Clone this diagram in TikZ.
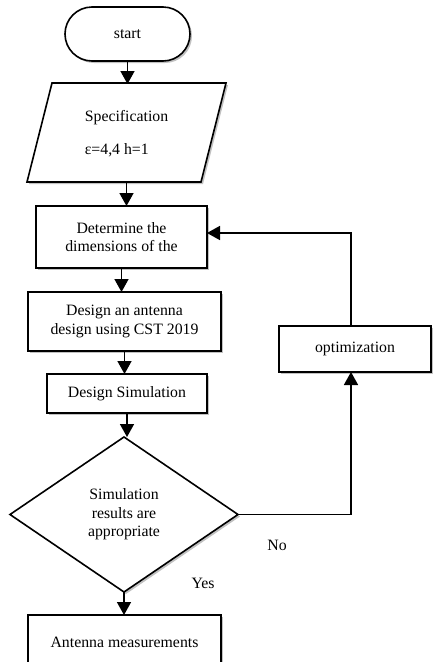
\documentclass[tikz,border=0pt]{standalone}
\usepackage{fontspec}
\setmainfont{Liberation Serif}
\usetikzlibrary{shapes.geometric,shapes.misc,arrows.meta,shadows,calc}
\begin{document}
\begin{tikzpicture}[x=1pt,y=-1pt,
  font=\fontsize{15.8}{18.4}\selectfont,
  every node/.style={inner sep=0pt, outer sep=0pt},
  shad/.style={drop shadow={shadow xshift=2pt,shadow yshift=-2pt,opacity=0.35,fill=black!70}},
  procbox/.style={draw, line width=1.6pt, fill=white, shad, align=center},
  termbox/.style={rounded rectangle, draw, line width=1.6pt, fill=white, shad},
  decbox/.style={diamond, draw, line width=1.6pt, fill=white, shad, align=center, shape aspect=1.47},
  ioshape/.style={draw, line width=1.6pt, fill=white, shad, line join=miter},
  flow/.style={line width=1.6pt, -{Triangle[length=13pt,width=14pt]}},
  lbl/.style={font=\fontsize{15.8}{18.4}\selectfont}
]
\useasboundingbox (0,0) rectangle (432,662);

% start
\node[termbox, minimum width=125pt, minimum height=54pt] (start) at (127.5,34) {start};

% specification (parallelogram)
\draw[ioshape] (52,83) -- (226,83) -- (201,182) -- (27,182) -- cycle;
\node[minimum width=199pt, minimum height=99pt, align=left] (spec) at (126.5,133.5)
  {Specification\\[14pt]ε=4,4 h=1};

% process boxes
\node[procbox, minimum width=171pt, minimum height=62pt] (dim) at (121.5,237)
  {Determine the\\dimensions of the};
\node[procbox, minimum width=193pt, minimum height=59pt] (des) at (124.5,321.5)
  {Design an antenna\\design using CST 2019};
\node[procbox, minimum width=160pt, minimum height=39pt] (sim) at (127,393.5)
  {Design Simulation};
\node[decbox, minimum width=228pt, minimum height=155pt] (dec) at (124,514.5)
  {Simulation\\results are\\appropriate};
\node[procbox, minimum width=193pt, minimum height=54pt] (meas) at (124.5,642)
  {Antenna measurements};
\node[procbox, minimum width=152pt, minimum height=46pt] (opt) at (355,349)
  {optimization};

% labels
\node[lbl] (no) at (277,545) {No};
\node[lbl] (yes) at (203,583) {Yes};

% connectors
\draw[flow] (start.south) -- (start.south |- spec.north);
\draw[flow] (spec.south) -- (spec.south |- dim.north);
\draw[flow] (dim.south) -- (dim.south |- des.north);
\draw[flow] (des.south) -- (des.south |- sim.north);
\draw[flow] (sim.south) -- (sim.south |- dec.north);
\draw[flow] (dec.south) -- (dec.south |- meas.north);
\draw[flow] (dec.east) -| ([xshift=-4pt]opt.south);
\draw[flow] ([xshift=-4pt]opt.north) |- ([yshift=4pt]dim.east);
\end{tikzpicture}
\end{document}
